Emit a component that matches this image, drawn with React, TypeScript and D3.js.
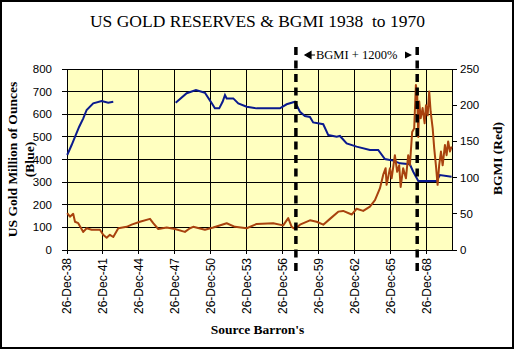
import { useEffect, useRef } from 'react'
import * as d3 from 'd3'

// tick labels, one every three years from 26 Dec 1938
const X_TICK_LABELS = ['26-Dec-38', '26-Dec-41', '26-Dec-44', '26-Dec-47', '26-Dec-50', '26-Dec-53', '26-Dec-56', '26-Dec-59', '26-Dec-62', '26-Dec-65', '26-Dec-68']
const GOLD_TICKS = [0, 100, 200, 300, 400, 500, 600, 700, 800]
const BGMI_TICKS = [0, 50, 100, 150, 200, 250]
// dashed markers (start / end of the BGMI +1200% run), decimal years
const MARKERS = [1958.06, 1968.17]

// US gold reserves, million oz (blue) — null = gap in the series
const GOLD: [number, number | null][] = [
  [1939.0, 420], [1939.37, 464], [1939.65, 500], [1940.0, 545], [1940.34, 582], [1940.62, 619],
  [1941.17, 648], [1941.87, 658], [1942.42, 651], [1942.84, 655], [1945.0, null],
  [1948.04, 651], [1948.96, 693], [1949.73, 707], [1950.34, 697], [1950.48, 695], [1950.96, 656],
  [1951.31, 626], [1951.67, 626], [1951.96, 656], [1952.15, 685], [1952.29, 670], [1952.84, 670],
  [1953.26, 648], [1953.96, 633], [1954.79, 626], [1956.73, 626], [1957.29, 644], [1957.98, 655],
  [1958.4, 611], [1958.81, 592], [1959.23, 588], [1959.5, 564], [1960.34, 556], [1960.76, 508],
  [1961.46, 501], [1961.73, 504], [1962.29, 471], [1963.12, 457], [1964.23, 442], [1964.92, 442],
  [1965.48, 402], [1966.17, 395], [1966.73, 383], [1967.56, 379], [1967.84, 346], [1968.26, 305],
  [1969.79, 305], [1970.06, 331], [1971.04, 324],
]

// BGMI index (red, right axis)
const BGMI: [number, number][] = [
  [1939.0, 51], [1939.23, 46], [1939.5, 50], [1939.65, 39], [1939.92, 37], [1940.34, 25],
  [1940.62, 30], [1941.04, 28], [1941.73, 28], [1942.0, 21], [1942.29, 17], [1942.56, 21],
  [1942.84, 18], [1943.26, 30], [1943.96, 32], [1944.37, 35], [1945.06, 39], [1945.9, 43],
  [1946.17, 37], [1946.59, 29], [1947.29, 31], [1947.98, 29], [1948.81, 25], [1949.23, 30],
  [1949.5, 32], [1950.48, 28], [1951.17, 31], [1952.29, 37], [1952.98, 32], [1953.96, 30],
  [1954.79, 36], [1956.17, 37], [1957.0, 34], [1957.42, 44], [1957.71, 32], [1957.98, 29],
  [1958.4, 35], [1959.23, 41], [1959.79, 39], [1960.34, 35], [1960.9, 43], [1961.59, 53],
  [1962.0, 54], [1962.71, 49], [1963.12, 57], [1963.67, 54], [1964.23, 60], [1964.65, 69],
  [1965.06, 85], [1965.34, 104], [1965.54, 113], [1965.62, 90], [1965.9, 113], [1966.04, 99],
  [1966.31, 131], [1966.5, 108], [1966.67, 117], [1966.79, 87], [1967.0, 113], [1967.23, 99],
  [1967.42, 131], [1967.56, 117], [1967.75, 163], [1967.92, 168], [1968.06, 228], [1968.17, 214],
  [1968.26, 156], [1968.34, 205], [1968.46, 182], [1968.62, 196], [1968.79, 175], [1968.9, 200],
  [1969.04, 186], [1969.17, 219], [1969.29, 191], [1969.46, 168], [1969.59, 140], [1969.73, 117],
  [1969.87, 90], [1970.0, 117], [1970.15, 136], [1970.29, 117], [1970.48, 145], [1970.62, 131],
  [1970.75, 150], [1970.9, 136], [1971.04, 143],
]

const SERIF = '"Liberation Serif", "Times New Roman", serif'
const SANS = '"Liberation Sans", Arial, sans-serif'

export default function App() {
  const svgRef = useRef<SVGSVGElement>(null)

  useEffect(() => {
    document.body.style.margin = '0'
    if (!svgRef.current) return
    const W = 515, H = 350
    const pad = { l: 67, r: 63, t: 69, b: 100 }
    const svg = d3.select(svgRef.current)
    svg.selectAll('*').remove()

    const firstTick = 1938.984
    const xTicks = X_TICK_LABELS.map((_, i) => firstTick + 3 * i)
    const x = d3.scaleLinear().domain([firstTick, 1971.07]).range([pad.l, W - pad.r])
    const yL = d3.scaleLinear().domain([0, 800]).range([H - pad.b, pad.t])
    const yR = d3.scaleLinear().domain([0, 250]).range([H - pad.b, pad.t])
    const bottom = H - pad.b

    svg.append('rect').attr('x', 1).attr('y', 1).attr('width', W - 3).attr('height', H - 3)
      .attr('fill', '#fff').attr('stroke', '#000').attr('stroke-width', 2)

    svg.append('rect').attr('x', pad.l).attr('y', pad.t)
      .attr('width', W - pad.r - pad.l).attr('height', bottom - pad.t).attr('fill', '#FFFFC0')

    // grid
    svg.selectAll('.hgrid').data(GOLD_TICKS).join('line')
      .attr('x1', pad.l - 5).attr('x2', W - pad.r)
      .attr('y1', d => yL(d)).attr('y2', d => yL(d))
      .attr('stroke', '#000').attr('stroke-width', 1).attr('shape-rendering', 'crispEdges')
    svg.selectAll('.vgrid').data(xTicks).join('line')
      .attr('x1', d => x(d)).attr('x2', d => x(d))
      .attr('y1', pad.t).attr('y2', bottom + 4)
      .attr('stroke', '#000').attr('stroke-width', 1).attr('shape-rendering', 'crispEdges')

    // right axis
    svg.append('line').attr('x1', W - pad.r).attr('x2', W - pad.r).attr('y1', pad.t).attr('y2', bottom)
      .attr('stroke', '#000').attr('shape-rendering', 'crispEdges')
    svg.selectAll('.rtick').data(BGMI_TICKS).join('line')
      .attr('x1', W - pad.r).attr('x2', W - pad.r + 5)
      .attr('y1', d => yR(d)).attr('y2', d => yR(d))
      .attr('stroke', '#000').attr('shape-rendering', 'crispEdges')

    svg.selectAll('.llab').data(GOLD_TICKS).join('text')
      .attr('x', 52).attr('y', d => yL(d) + 4)
      .attr('text-anchor', 'end').attr('font-size', 11.5).attr('font-family', SANS).attr('fill', '#000')
      .text(d => d)
    svg.selectAll('.rlab').data(BGMI_TICKS).join('text')
      .attr('x', 460).attr('y', d => yR(d) + 4)
      .attr('font-size', 11.5).attr('font-family', SANS).attr('fill', '#000')
      .text(d => d)

    svg.selectAll('.xlab').data(xTicks).join('text')
      .attr('transform', d => `translate(${x(d) + 4},258) rotate(-90)`)
      .attr('text-anchor', 'end').attr('font-size', 12).attr('font-family', SANS).attr('fill', '#000')
      .text((_, i) => X_TICK_LABELS[i])

    // series
    const goldLine = d3.line<[number, number | null]>()
      .defined(d => d[1] !== null)
      .x(d => x(d[0])).y(d => yL(d[1] as number))
    svg.append('path').datum(GOLD).attr('d', goldLine)
      .attr('fill', 'none').attr('stroke', '#0A1A8E').attr('stroke-width', 2)

    const bgmiLine = d3.line<[number, number]>().x(d => x(d[0])).y(d => yR(d[1]))
    svg.append('path').datum(BGMI).attr('d', bgmiLine)
      .attr('fill', 'none').attr('stroke', '#A8420E').attr('stroke-width', 2)
      .attr('stroke-linejoin', 'round')

    // dashed markers
    svg.selectAll('.marker').data(MARKERS).join('line')
      .attr('x1', d => x(d)).attr('x2', d => x(d))
      .attr('y1', 47).attr('y2', 276)
      .attr('stroke', '#000').attr('stroke-width', 3.5).attr('stroke-dasharray', '8,5.5')

    // annotation
    svg.append('path').attr('d', 'M305,55 L311,51.5 L311,58.5 Z M310,55 L315,55')
      .attr('fill', '#000').attr('stroke', '#000').attr('stroke-width', 1.2)
    svg.append('path').attr('d', 'M412,55 L405,51.5 L405,58.5 Z').attr('fill', '#000')
    svg.append('text').attr('x', 316).attr('y', 59)
      .attr('font-size', 12.5).attr('font-family', SERIF).attr('fill', '#000')
      .text('BGMI + 1200%')

    // titles
    svg.append('text').attr('x', 257.5).attr('y', 27).attr('text-anchor', 'middle')
      .attr('font-size', 17.5).attr('font-family', SERIF).attr('fill', '#000')
      .attr('xml:space', 'preserve')
      .text('US GOLD RESERVES & BGMI 1938  to 1970')

    const lt = svg.append('text').attr('transform', 'translate(17,159.5) rotate(-90)')
      .attr('text-anchor', 'middle').attr('font-size', 13.5).attr('font-weight', 'bold')
      .attr('font-family', SERIF).attr('fill', '#000')
    lt.append('tspan').attr('x', 0).attr('dy', 0).text('US Gold Million of Ounces')
    lt.append('tspan').attr('x', 0).attr('dy', 16.5).text('(Blue)')

    svg.append('text').attr('transform', 'translate(502,158.5) rotate(-90)')
      .attr('text-anchor', 'middle').attr('font-size', 13.5).attr('font-weight', 'bold')
      .attr('font-family', SERIF).attr('fill', '#000')
      .text('BGMI (Red)')

    svg.append('text').attr('x', 257.5).attr('y', 334).attr('text-anchor', 'middle')
      .attr('font-size', 13.5).attr('font-weight', 'bold').attr('font-family', SERIF).attr('fill', '#000')
      .text("Source Barron's")
  }, [])

  return <svg ref={svgRef} width={515} height={350} style={{ display: 'block' }} />
}
